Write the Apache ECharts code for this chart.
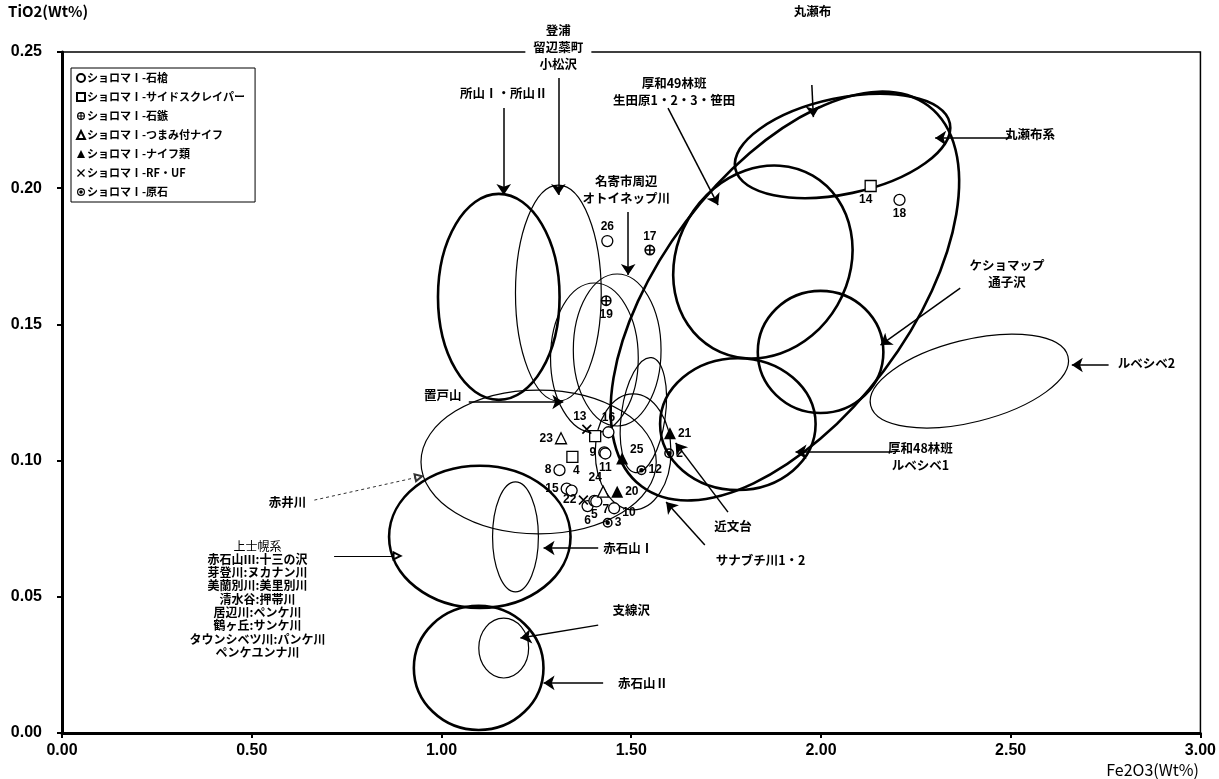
<!DOCTYPE html>
<html><head><meta charset="utf-8">
<script src="https://cdn.jsdelivr.net/npm/echarts@6/dist/echarts.min.js"></script>
<style>html,body{margin:0;padding:0;background:#fff}#c{width:1219px;height:779px}</style>
</head><body><div id="c"></div>
<script>
// ---------------- DATA ----------------
const xTickLabels = ['0.00','0.50','1.00','1.50','2.00','2.50','3.00'];
const yTickLabels = ['0.00','0.05','0.10','0.15','0.20','0.25'];

// ショロマⅠ-石槍 (open circle)
const spearX  = [1.437, 2.207, 1.440, 1.429, 1.432, 1.311, 1.330, 1.343, 1.385, 1.403, 1.408, 1.455];
const spearY  = [0.1806, 0.1957, 0.1104, 0.1030, 0.1026, 0.0965, 0.0897, 0.0890, 0.0833, 0.0852, 0.0850, 0.0825];
const spearNo = ['26', '18', '16', '9', '11', '8', '15', '', '6', '5', '7', '10'];
// サイドスクレイパー (open square)
const scraperX  = [2.131, 1.345, 1.405];
const scraperY  = [0.2008, 0.1014, 0.1090];
const scraperNo = ['14', '4', ''];
// 石鏃
const arrowheadX  = [1.549, 1.434];
const arrowheadY  = [0.1773, 0.1587];
const arrowheadNo = ['17', '19'];
// つまみ付ナイフ (open triangle)
const tabKnifeX  = [1.315, 1.426];
const tabKnifeY  = [0.1082, 0.0886];
const tabKnifeNo = ['23', '24'];
// ナイフ類 (filled triangle)
const knifeX  = [1.476, 1.463, 1.602];
const knifeY  = [0.1008, 0.0886, 0.1100];
const knifeNo = ['25', '20', '21'];
// RF・UF (cross)
const rfX  = [1.383, 1.374];
const rfY  = [0.1115, 0.0855];
const rfNo = ['13', '22'];
// 原石
const rawX  = [1.527, 1.600, 1.438];
const rawY  = [0.0965, 0.1027, 0.0772];
const rawNo = ['12', '2', '3'];

const seriesNames = ['ショロマⅠ-石槍','ショロマⅠ-サイドスクレイパー','ショロマⅠ-石鏃','ショロマⅠ-つまみ付ナイフ','ショロマⅠ-ナイフ類','ショロマⅠ-RF・UF','ショロマⅠ-原石'];

// source-area ellipses (centre, half-extents in axis units, tilt in degrees)
const ellName = ['所山','登浦','名寄','名寄2','近文台','サナブチ川','置戸山','赤井川','赤石山Ⅰ','赤石山Ⅱ','支線沢','丸瀬布','厚和49林班','ケショマップ','厚和48林班','ルベシベ2','丸瀬布系'];
const ellCx  = [1.151, 1.308, 1.463, 1.403, 1.532, 1.505, 1.256, 1.101, 1.195, 1.098, 1.164, 2.057, 1.847, 1.999, 1.781, 2.391, 1.905];
const ellCy  = [0.1601, 0.1615, 0.1406, 0.1377, 0.1167, 0.1032, 0.0995, 0.0720, 0.0720, 0.0239, 0.0312, 0.2155, 0.1729, 0.1399, 0.1134, 0.1292, 0.1604];
const ellRx  = [0.1602, 0.1130, 0.1156, 0.1156, 0.0578, 0.0998, 0.3100, 0.2391, 0.0604, 0.1708, 0.0657, 0.2890, 0.2627, 0.1655, 0.2049, 0.2679, 0.6278];
const ellRy  = [0.0378, 0.0396, 0.0279, 0.0275, 0.0213, 0.0213, 0.0264, 0.0261, 0.0202, 0.0228, 0.0110, 0.0176, 0.0316, 0.0224, 0.0242, 0.0151, 0.0455];
const ellRot = [0, 0, 0, 0, -8, 0, 0, 0, 0, 0, 0, 12, 60, 0, 0, 14, 53];

// annotation texts and their anchor points
const noteText = ['所山Ⅰ・所山Ⅱ','登浦\n留辺蘂町\n小松沢','厚和49林班\n生田原1・2・3・笹田','丸瀬布','丸瀬布系','ケショマップ\n通子沢','ルベシベ2','厚和48林班\nルベシベ1','近文台','サナブチ川1・2','赤石山Ⅰ','支線沢','赤石山Ⅱ','置戸山','赤井川','名寄市周辺\nオトイネップ川'];
const noteX = [1.164, 1.308, 1.613, 1.978, 2.551, 2.490, 2.858, 2.262, 1.768, 1.841, 1.492, 1.500, 1.531, 1.0035, 0.594, 1.487];
const noteY = [0.2349, 0.2518, 0.2353, 0.2651, 0.2199, 0.1685, 0.1358, 0.1013, 0.0760, 0.0635, 0.0679, 0.0452, 0.0184, 0.1241, 0.0848, 0.1993];
const kamiTitle = '上士幌系';
const kamiList = '赤石山Ⅲ:十三の沢\n芽登川:ヌカナン川\n美蘭別川:美里別川\n清水谷:押帯川\n居辺川:ペンケ川\n鶴ヶ丘:サンケ川\nタウンシベツ川:パンケ川\nペンケユンナ川';
const kamiX = 0.515, kamiTitleY = 0.0686, kamiListY = 0.0467;

// arrows: start -> end
const arrX1 = [1.164, 1.308, 1.597, 1.976, 2.503, 2.367, 2.758, 2.188, 1.755, 1.694, 1.413, 1.413, 1.426, 1.072, 1.492];
const arrY1 = [0.2294, 0.2405, 0.2294, 0.2379, 0.2184, 0.1633, 0.1351, 0.1032, 0.0811, 0.0690, 0.0679, 0.0396, 0.0184, 0.1215, 0.1913];
const arrX2 = [1.164, 1.308, 1.729, 1.980, 2.301, 2.157, 2.661, 1.933, 1.617, 1.592, 1.269, 1.208, 1.269, 1.321, 1.492];
const arrY2 = [0.1975, 0.1975, 0.1938, 0.2261, 0.2184, 0.1424, 0.1351, 0.1032, 0.1065, 0.0848, 0.0679, 0.0349, 0.0184, 0.1215, 0.1681];
// open-headed arrows (赤井川 dashed, 上士幌系)
const openX1 = [0.665, 0.717], openY1 = [0.0855, 0.0650];
const openX2 = [0.940, 0.883], openY2 = [0.0940, 0.0650];

// ---------------- STYLE / LAYOUT ----------------
const ellThick = [true,false,false,false,false,false,false,true,false,true,false,true,true,true,true,false,true];
const labelPos = {
  spear: ['top','bottom','top','left','bottom','left','left','left','bottom','bottom','right','right'],
  scraper: ['bottom','bottom','top'],
  arrowhead: ['top','bottom'],
  tabKnife: ['left','top'],
  knife: ['right','right','right'],
  rf: ['top','left'],
  raw: ['right','right','right']
};
const labelOffset = {
  spear: [null,null,null,null,null,null,null,null,null,null,[-2,8],[0,4]],
  scraper: [[-5,0],[4,0],null],
  arrowhead: [null,null],
  tabKnife: [null,[-8,0]],
  knife: [[0,-9],null,null],
  rf: [[-7,0],null],
  raw: [null,null,null]
};
const JP = '"Noto Sans CJK JP", "Noto Sans", sans-serif';
const SYM_ARROWHEAD = 'path://M0,-10A10,10,0,1,1,0,10A10,10,0,1,1,0,-10ZM0,-7A7,7,0,1,0,0,7A7,7,0,1,0,0,-7ZM-1.4,-7L1.4,-7L1.4,7L-1.4,7ZM-7,-1.4L7,-1.4L7,1.4L-7,1.4Z';
const SYM_RAW = 'path://M0,-10A10,10,0,1,1,0,10A10,10,0,1,1,0,-10ZM0,-7A7,7,0,1,0,0,7A7,7,0,1,0,0,-7ZM0,-4.5A4.5,4.5,0,1,1,0,4.5A4.5,4.5,0,1,1,0,-4.5Z';
const SYM_X = 'path://M-6.8,-5.2L-5.2,-6.8L6.8,5.2L5.2,6.8ZM5.2,-6.8L6.8,-5.2L-5.2,6.8L-6.8,5.2Z';

function scatter(name, xs, ys, nos, pos, offs, symbol, size, itemStyle) {
  return {
    type: 'scatter', name, symbol, symbolSize: size, itemStyle, z: 6,
    data: xs.map((x, i) => ({ value: [x, ys[i]], name: nos[i],
      label: offs[i] ? { position: pos[i], offset: offs[i] } : { position: pos[i] } })),
    label: { show: true, formatter: p => p.name, fontSize: 12, fontWeight: 'bold', color: '#000', distance: 2, fontFamily: 'Liberation Sans' },
    emphasis: { disabled: true }
  };
}
const openStyle = { color: '#fff', borderColor: '#000', borderWidth: 1.3, opacity: 1 };
const fillStyle = { color: '#000', borderWidth: 0, opacity: 1 };

const chart = echarts.init(document.getElementById('c'), null, { renderer: 'canvas' });
chart.setOption({
  animation: false,
  backgroundColor: '#fff',
  grid: { left: 62, right: 15, top: 52, bottom: 46, show: true, borderColor: '#000', borderWidth: 1.5, backgroundColor: 'transparent' },
  xAxis: {
    type: 'value', min: 0, max: 3, interval: 0.5,
    axisLine: { onZero: false, lineStyle: { color: '#000', width: 3 } },
    axisTick: { show: true, length: 5, lineStyle: { color: '#000', width: 2 } },
    splitLine: { show: false },
    axisLabel: { color: '#000', fontSize: 16, fontWeight: 'bold', fontFamily: 'Liberation Sans', margin: 10,
      formatter: v => xTickLabels[Math.round(v / 0.5)] }
  },
  yAxis: {
    type: 'value', min: 0, max: 0.25, interval: 0.05,
    axisLine: { onZero: false, lineStyle: { color: '#000', width: 3 } },
    axisTick: { show: true, length: 5, lineStyle: { color: '#000', width: 2 } },
    splitLine: { show: false },
    axisLabel: { color: '#000', fontSize: 16, fontWeight: 'bold', fontFamily: 'Liberation Sans', margin: 20,
      formatter: v => yTickLabels[Math.round(v / 0.05)] }
  },
  legend: {
    data: seriesNames,
    orient: 'vertical', left: 71, top: 68, itemWidth: 8, itemHeight: 8, itemGap: 7,
    padding: [4, 10, 4, 5], borderColor: '#000', borderWidth: 1, backgroundColor: '#fff',
    textStyle: { fontSize: 11, fontWeight: 'bold', fontFamily: JP, color: '#000', padding: [0, 0, 0, -3], lineHeight: 12 },
    selectedMode: false, z: 10
  },
  graphic: [
    { type: 'text', left: 8, top: 4, style: { text: 'TiO2(Wt%)', fontSize: 15, fontWeight: 'bold', fontFamily: JP, fill: '#000' } },
    { type: 'text', right: 20, bottom: 1, style: { text: 'Fe2O3(Wt%)', fontSize: 16, fontFamily: JP, fill: '#000' } }
  ],
  series: [
    {
      type: 'custom', name: 'ellipses', silent: true, z: 2, clip: false,
      data: ellCx.map((x, i) => [x, ellCy[i]]),
      renderItem: (params, api) => {
        const i = params.dataIndex;
        const c = api.coord([ellCx[i], ellCy[i]]);
        const s = api.size([ellRx[i], ellRy[i]]);
        return { type: 'ellipse', x: c[0], y: c[1], rotation: ellRot[i] * Math.PI / 180,
          shape: { cx: 0, cy: 0, rx: s[0], ry: s[1] },
          style: { fill: null, stroke: '#000', lineWidth: ellThick[i] ? 2.6 : 1.2 } };
      }
    },
    {
      type: 'lines', coordinateSystem: 'cartesian2d', silent: true, z: 3,
      symbol: ['none', 'arrow'], symbolSize: [8, 11],
      lineStyle: { color: '#000', width: 1.5, opacity: 1, curveness: 0 },
      data: arrX1.map((x, i) => ({ coords: [[x, arrY1[i]], [arrX2[i], arrY2[i]]] }))
    },
    {
      type: 'lines', coordinateSystem: 'cartesian2d', silent: true, z: 3,
      symbol: ['none', 'emptyTriangle'], symbolSize: 7,
      lineStyle: { color: '#000', width: 1, opacity: 1 },
      data: [
        { coords: [[openX1[0], openY1[0]], [openX2[0], openY2[0]]], lineStyle: { type: [3, 3], color: '#333' } },
        { coords: [[openX1[1], openY1[1]], [openX2[1], openY2[1]]] }
      ]
    },
    {
      type: 'custom', name: 'notes', silent: true, z: 4, clip: false,
      data: noteX.map((x, i) => [x, noteY[i]]),
      renderItem: (params, api) => {
        const i = params.dataIndex;
        const c = api.coord([noteX[i], noteY[i]]);
        return { type: 'text', x: c[0], y: c[1],
          style: { text: noteText[i], fill: '#000', fontSize: 12.5, fontWeight: 'bold', fontFamily: JP,
            align: 'center', verticalAlign: 'middle', lineHeight: 17,
            backgroundColor: (i <= 1) ? '#fff' : null, padding: (i <= 1) ? [3, 8] : 0 } };
      }
    },
    {
      type: 'custom', name: 'kami', silent: true, z: 4, clip: false,
      data: [[kamiX, kamiTitleY], [kamiX, kamiListY]],
      renderItem: (params, api) => {
        const i = params.dataIndex;
        const c = api.coord(i === 0 ? [kamiX, kamiTitleY] : [kamiX, kamiListY]);
        return { type: 'text', x: c[0], y: c[1],
          style: { text: i === 0 ? kamiTitle : kamiList, fill: '#000', fontSize: 12,
            fontWeight: i === 0 ? 'normal' : 'bold', fontFamily: JP,
            align: 'center', verticalAlign: 'middle', lineHeight: 13.3 } };
      }
    },
    scatter(seriesNames[0], spearX, spearY, spearNo, labelPos.spear, labelOffset.spear, 'circle', 11, openStyle),
    scatter(seriesNames[1], scraperX, scraperY, scraperNo, labelPos.scraper, labelOffset.scraper, 'rect', 11, openStyle),
    scatter(seriesNames[2], arrowheadX, arrowheadY, arrowheadNo, labelPos.arrowhead, labelOffset.arrowhead, SYM_ARROWHEAD, 11, fillStyle),
    scatter(seriesNames[3], tabKnifeX, tabKnifeY, tabKnifeNo, labelPos.tabKnife, labelOffset.tabKnife, 'triangle', 11, openStyle),
    scatter(seriesNames[4], knifeX, knifeY, knifeNo, labelPos.knife, labelOffset.knife, 'triangle', 12, fillStyle),
    scatter(seriesNames[5], rfX, rfY, rfNo, labelPos.rf, labelOffset.rf, SYM_X, 10, fillStyle),
    scatter(seriesNames[6], rawX, rawY, rawNo, labelPos.raw, labelOffset.raw, SYM_RAW, 10, fillStyle)
  ]
});
</script></body></html>
